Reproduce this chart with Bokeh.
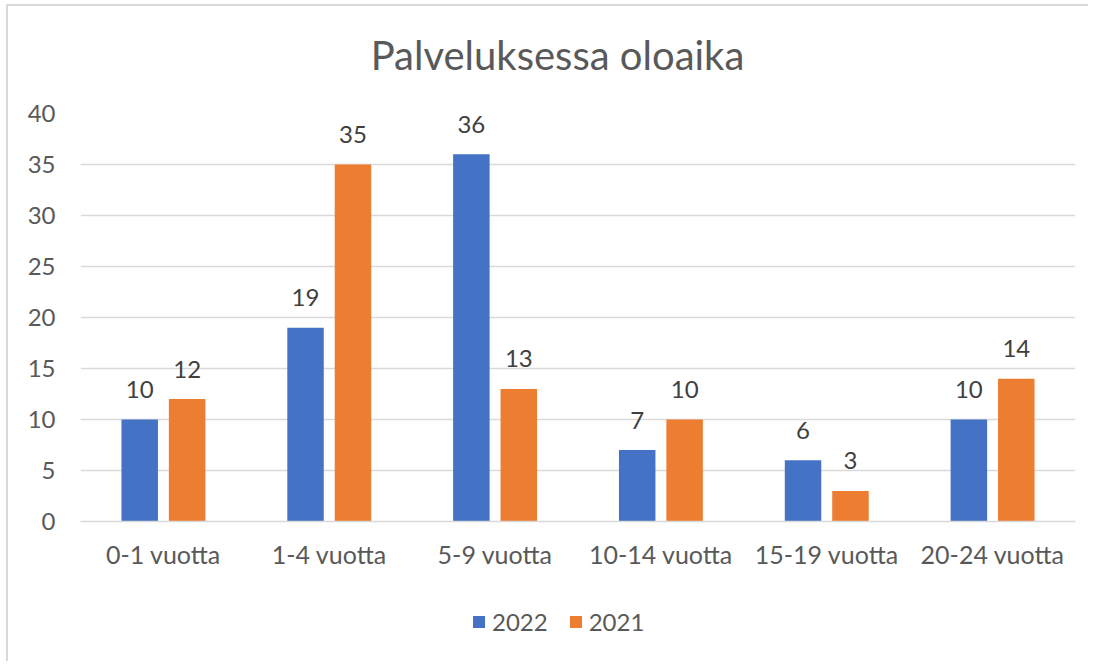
from bokeh.plotting import figure
from bokeh.layouts import column
from bokeh.models import ColumnDataSource, FactorRange, Range1d, Legend, LegendItem
from bokeh.transform import dodge
from bokeh.core.properties import value
from bokeh.embed import file_html
from bokeh.resources import INLINE

categories = ["0-1 vuotta", "1-4 vuotta", "5-9 vuotta", "10-14 vuotta", "15-19 vuotta", "20-24 vuotta"]
values_2022 = [10, 19, 36, 7, 6, 10]
values_2021 = [12, 35, 13, 10, 3, 14]
series_names = ["2022", "2021"]
y_ticks = [0, 5, 10, 15, 20, 25, 30, 35, 40]
title_text = "Palveluksessa oloaika"

BLUE = "#4472C4"
ORANGE = "#ED7D31"
GRID = "#d9d9d9"
TXT = "#595959"
LBL = "#404040"
FONT = "Lato"
W = 1080
FW = 995

# ---- title strip (frame aligned with the chart frame by the column) ----
pt = figure(width=W, height=92, x_range=Range1d(0, FW), y_range=Range1d(0, 92),
            output_backend="svg", toolbar_location=None, min_border=0,
            x_axis_location=None, y_axis_location=None)
pt.grid.visible = False
pt.outline_line_color = None
pt.text(x=[477], y=[44], text=[title_text], text_align="center", text_baseline="middle",
        text_font=value(FONT), text_font_size="40px", text_color=TXT)

# ---- main chart ----
src = ColumnDataSource(dict(
    cat=categories,
    v2022=values_2022,
    v2021=values_2021,
    l2022=[str(v) for v in values_2022],
    l2021=[str(v) for v in values_2021],
))

p = figure(
    x_range=FactorRange(*categories),
    y_range=Range1d(0, 40),
    frame_width=FW, frame_height=408,
    output_backend="svg", toolbar_location=None,
    min_border_left=72, min_border_right=13,
    min_border_top=15, min_border_bottom=60,
)

off = 0.143
bw = 0.22
p.vbar(x=dodge("cat", -off, range=p.x_range), top="v2022", width=bw, source=src,
       fill_color=BLUE, line_color=None)
p.vbar(x=dodge("cat", off, range=p.x_range), top="v2021", width=bw, source=src,
       fill_color=ORANGE, line_color=None)

for key, o in (("2022", -off), ("2021", off)):
    p.text(x=dodge("cat", o, range=p.x_range), y="v" + key, text="l" + key, source=src,
           text_align="center", text_baseline="alphabetic", y_offset=-30,
           text_font=value(FONT), text_font_size="24px", text_color=LBL)

p.ygrid.grid_line_color = GRID
p.ygrid.grid_line_width = 1.5
p.xgrid.grid_line_color = None
p.outline_line_color = None

p.yaxis.ticker = y_ticks
p.yaxis.axis_line_color = None
p.yaxis.major_tick_line_color = None
p.yaxis.minor_tick_line_color = None
p.yaxis.major_label_standoff = 19
p.yaxis.major_label_text_font = FONT
p.yaxis.major_label_text_font_size = "24px"
p.yaxis.major_label_text_color = TXT

p.xaxis.axis_line_color = GRID
p.xaxis.axis_line_width = 1.5
p.xaxis.major_tick_line_color = None
p.xaxis.minor_tick_line_color = None
p.xaxis.major_label_standoff = 11
p.xaxis.major_label_text_font = FONT
p.xaxis.major_label_text_font_size = "25px"
p.xaxis.major_label_text_color = TXT

# ---- legend strip ----
pl = figure(width=W, height=80, x_range=Range1d(0, 1), y_range=Range1d(0, 1),
            output_backend="svg", toolbar_location=None, min_border=0,
            x_axis_location=None, y_axis_location=None)
pl.grid.visible = False
pl.outline_line_color = None
# legend-only swatch renderers (zero height, draw nothing themselves)
g1 = pl.vbar(x=[0.5], top=[0], width=0.1, fill_color=BLUE, line_color=None)
g2 = pl.vbar(x=[0.5], top=[0], width=0.1, fill_color=ORANGE, line_color=None)
legend = Legend(items=[LegendItem(label=series_names[0], renderers=[g1]),
                       LegendItem(label=series_names[1], renderers=[g2])],
                orientation="horizontal", location=(391, 25),
                glyph_width=15, glyph_height=15, label_standoff=6, spacing=20,
                padding=5, margin=0, border_line_color=None, background_fill_alpha=0,
                label_text_font=FONT, label_text_font_size="24px", label_text_color=TXT)
pl.add_layout(legend, "center")

lay = column(pt, p, pl, spacing=0)
lay.styles = {"margin-left": "6px", "margin-top": "4px",
              "border-left": "2px solid #d9d9d9", "border-top": "2px solid #d9d9d9"}

open("out.html", "w").write(file_html(lay, INLINE))
